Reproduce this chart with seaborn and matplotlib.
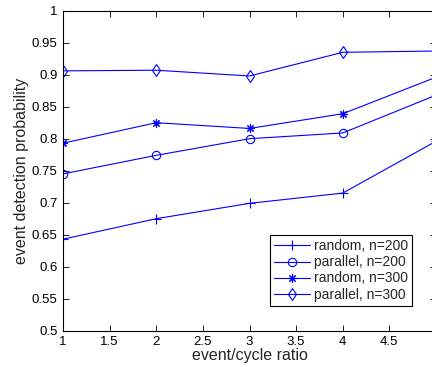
import pandas as pd
import matplotlib
matplotlib.use("Agg")
import matplotlib.pyplot as plt
import matplotlib.ticker as mticker
import seaborn as sns

# Dati
ratio = [1, 2, 3, 4, 5]
random_200 = [0.643, 0.675, 0.699, 0.715, 0.796]
parallel_200 = [0.745, 0.774, 0.800, 0.809, 0.868]
random_300 = [0.793, 0.825, 0.816, 0.839, 0.896]
parallel_300 = [0.906, 0.907, 0.898, 0.935, 0.937]
series_labels = ["random, n=200", "parallel, n=200", "random, n=300", "parallel, n=300"]
x_ticks = [1, 1.5, 2, 2.5, 3, 3.5, 4, 4.5]
y_ticks = [0.5, 0.55, 0.6, 0.65, 0.7, 0.75, 0.8, 0.85, 0.9, 0.95, 1]

sns.set_style("ticks")
plt.rcParams['font.family'] = ['Liberation Sans', 'DejaVu Sans']

fig = plt.figure(figsize=(4.32, 3.67), dpi=100)
ax = fig.add_axes([63 / 432, (367 - 330.7) / 367, 373 / 432, 320 / 367])

markers = ["+", "o", (8, 2, 0), "d"]
sizes = [7, 6, 6, 6.5]
for vals, lab, m, s in zip([random_200, parallel_200, random_300, parallel_300],
                           series_labels, markers, sizes):
    sns.lineplot(x=ratio, y=vals, ax=ax, color="blue", linewidth=0.8,
                 marker=m, markersize=s, markerfacecolor="none",
                 markeredgecolor="blue", markeredgewidth=0.8, label=lab)

ax.set_xlim(1, 5)
ax.set_ylim(0.5, 1)
ax.set_xticks(x_ticks)
ax.set_yticks(y_ticks)
ax.xaxis.set_major_formatter(mticker.FormatStrFormatter('%g'))
ax.yaxis.set_major_formatter(mticker.FormatStrFormatter('%g'))
ax.tick_params(direction="in", length=4, width=0.6, labelsize=9.5,
               top=True, right=True, pad=4, colors="black")
for sp in ax.spines.values():
    sp.set_visible(True)
    sp.set_linewidth(0.8)
    sp.set_color("black")

ax.set_xlabel("event/cycle ratio", fontsize=11.5, labelpad=0)
ax.set_ylabel("event detection probability", fontsize=11.5, labelpad=2)

leg = ax.legend(loc="lower left", bbox_to_anchor=((269.7 - 63) / 373, (330.7 - 305.7) / 320),
                fontsize=10, frameon=True, fancybox=False, framealpha=1,
                edgecolor="black", handlelength=2.6, handletextpad=0.3,
                borderpad=0.3, labelspacing=0.15, borderaxespad=0)
leg.get_frame().set_linewidth(0.8)

fig.savefig("out.png", dpi=100)
